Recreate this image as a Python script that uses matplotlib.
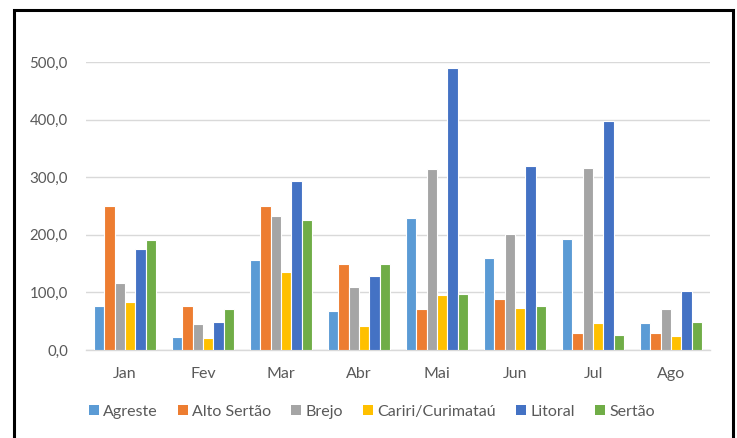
import numpy as np
import matplotlib
matplotlib.use("Agg")
import matplotlib.pyplot as plt
from matplotlib.patches import Rectangle, Patch
from matplotlib.ticker import FuncFormatter

plt.rcParams['font.family'] = ['Lato', 'DejaVu Sans']

months = ["Jan", "Fev", "Mar", "Abr", "Mai", "Jun", "Jul", "Ago"]
regions = ["Agreste", "Alto Sertão", "Brejo", "Cariri/Curimataú", "Litoral", "Sertão"]

agreste = [77, 22, 157, 67, 229, 159, 192, 47]
alto_sertao = [250, 77, 250, 150, 71, 89, 29, 29]
brejo = [117, 45, 232, 109, 314, 202, 316, 71]
cariri = [84, 20, 135, 41, 95, 73, 47, 24]
litoral = [175, 49, 294, 129, 490, 320, 397, 102]
sertao = [191, 72, 226, 149, 97, 76, 26, 49]

series = [agreste, alto_sertao, brejo, cariri, litoral, sertao]
colors = ["#5B9BD5", "#ED7D31", "#A5A5A5", "#FFC000", "#4472C4", "#70AD47"]

W, H = 737, 438
fig = plt.figure(figsize=(W / 100, H / 100), dpi=100)
ax = fig.add_axes([86 / W, (H - 350) / H, (710 - 86) / W, (350 - 62) / H])

x = np.arange(len(months))
bw = 0.133
for i, (vals, c) in enumerate(zip(series, colors)):
    ax.bar(x + (i - 2.5) * bw, vals, width=bw, color=c, edgecolor="white",
           linewidth=0.8, zorder=3, label=regions[i])

ax.set_xlim(-0.5, len(months) - 0.5)
ax.set_ylim(0, 500)
ax.set_yticks(np.arange(0, 501, 100))
ax.yaxis.set_major_formatter(FuncFormatter(lambda v, p: f"{v:.1f}".replace(".", ",")))
ax.set_xticks(x)
ax.set_xticklabels(months)

ax.grid(axis="y", color="#D9D9D9", linewidth=1.0, zorder=0)
for s in ["top", "right", "left"]:
    ax.spines[s].set_visible(False)
ax.spines["bottom"].set_color("#D9D9D9")
ax.spines["bottom"].set_linewidth(1.0)
ax.tick_params(axis="both", length=0, colors="#595959")
ax.tick_params(axis="y", pad=13, labelsize=10.8)
ax.tick_params(axis="x", pad=12, labelsize=11.5)

handles = [Patch(facecolor=c, edgecolor="none") for c in colors]
fig.legend(handles, regions, loc="center", bbox_to_anchor=(372 / W, (H - 412) / H),
           ncol=6, frameon=False, fontsize=11.5, handlelength=0.6, handleheight=0.6,
           handletextpad=0.3, columnspacing=1.25, labelcolor="#595959")

# outer frame around the chart
fig.patches.append(Rectangle((14 / W, -0.05), (733 - 14) / W, 1.05 - 10 / H,
                             transform=fig.transFigure, fill=False,
                             edgecolor="black", linewidth=2.2, clip_on=False))

fig.savefig("out.png", dpi=100, facecolor="white")
